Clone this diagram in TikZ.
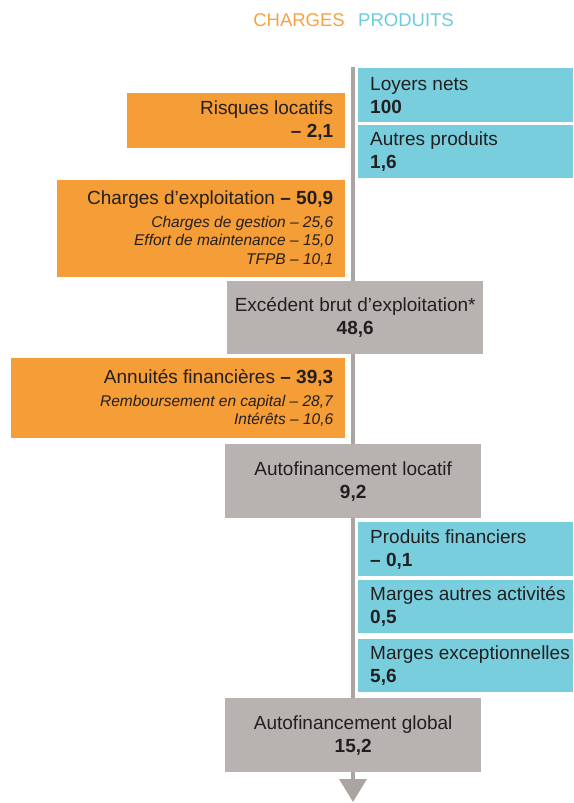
\documentclass[tikz,border=0pt]{standalone}
\usepackage{fontspec}
\setmainfont{Liberation Sans}
\usetikzlibrary{arrows.meta}
\definecolor{orng}{RGB}{245,157,54}
\definecolor{blu}{RGB}{120,206,221}
\definecolor{gry}{RGB}{184,178,176}
\definecolor{linegry}{RGB}{170,164,162}
\definecolor{txt}{RGB}{35,31,32}
\definecolor{hdorange}{RGB}{247,161,69}
\definecolor{hdblue}{RGB}{106,204,222}
\begin{document}
\begin{tikzpicture}[x=1pt,y=-1pt,
  box/.style={draw=none, inner sep=0pt, anchor=north west},
  obox/.style={box, fill=orng},
  bbox/.style={box, fill=blu},
  gbox/.style={box, fill=gry},
  lbl/.style={inner sep=0pt, text=txt, font=\fontsize{19}{23}\selectfont},
  sublbl/.style={inner sep=0pt, text=txt, font=\fontsize{15.5}{18.5}\selectfont},
  hdr/.style={inner sep=0pt, font=\fontsize{18.5}{22}\selectfont}
]
\useasboundingbox (0,0) rectangle (573,803);

% header
\node[hdr, text=hdorange, anchor=base east] (hch) at (345,27) {CHARGES};
\node[hdr, text=hdblue, anchor=base west] (hpr) at (358,27) {PRODUITS};

% central line with arrow
\coordinate (ltop) at (353,67);
\coordinate (lbot) at (353,802);
\draw[linegry, line width=3.6pt, -{Triangle[length=23pt,width=27pt]}] (ltop) -- (lbot);

% product boxes
\node[bbox, minimum width=215pt, minimum height=54pt] (loyers) at (358,68) {};
\node[bbox, minimum width=215pt, minimum height=53pt] (autres) at (358,125) {};
\node[bbox, minimum width=215pt, minimum height=54pt] (pf) at (358,522) {};
\node[bbox, minimum width=215pt, minimum height=53pt] (mao) at (358,580) {};
\node[bbox, minimum width=215pt, minimum height=53pt] (mex) at (358,639) {};

% charge boxes
\node[obox, minimum width=218pt, minimum height=55pt] (risq) at (127,93) {};
\node[obox, minimum width=288pt, minimum height=97pt] (chexp) at (57,180) {};
\node[obox, minimum width=334pt, minimum height=80pt] (annu) at (11,358) {};

% result boxes
\node[gbox, minimum width=256pt, minimum height=73pt] (exc) at (227,281) {};
\node[gbox, minimum width=256pt, minimum height=74pt] (afl) at (225,444) {};
\node[gbox, minimum width=256pt, minimum height=74pt] (afg) at (225,698) {};

% product texts
\node[lbl, anchor=west, align=left] (loyerst) at ([xshift=12pt]loyers.west) {Loyers nets\\\textbf{100}};
\node[lbl, anchor=west, align=left] (autrest) at ([xshift=12pt]autres.west) {Autres produits\\\textbf{1,6}};
\node[lbl, anchor=west, align=left] (pft) at ([xshift=12pt]pf.west) {Produits financiers\\\textbf{– 0,1}};
\node[lbl, anchor=west, align=left] (maot) at ([xshift=12pt]mao.west) {Marges autres activités\\\textbf{0,5}};
\node[lbl, anchor=west, align=left] (mext) at ([xshift=12pt]mex.west) {Marges exceptionnelles\\\textbf{5,6}};

% charge texts
\node[lbl, anchor=east, align=right] (risqt) at ([xshift=-12pt]risq.east) {Risques locatifs\\\textbf{– 2,1}};
\node[sublbl, anchor=east, align=right] (chexpt) at ([xshift=-12pt]chexp.east)
  {{\fontsize{19}{23}\selectfont Charges d’exploitation \textbf{– 50,9}}\\[4pt]
   \textit{Charges de gestion – 25,6}\\
   \textit{Effort de maintenance – 15,0}\\
   \textit{TFPB – 10,1}};
\node[sublbl, anchor=east, align=right] (annut) at ([xshift=-12pt]annu.east)
  {{\fontsize{19}{23}\selectfont Annuités financières \textbf{– 39,3}}\\[4pt]
   \textit{Remboursement en capital – 28,7}\\
   \textit{Intérêts – 10,6}};

% result texts
\node[lbl, align=center] (exct) at (exc.center) {Excédent brut d’exploitation*\\\textbf{48,6}};
\node[lbl, align=center] (aflt) at (afl.center) {Autofinancement locatif\\\textbf{9,2}};
\node[lbl, align=center] (afgt) at (afg.center) {Autofinancement global\\\textbf{15,2}};
\end{tikzpicture}
\end{document}
